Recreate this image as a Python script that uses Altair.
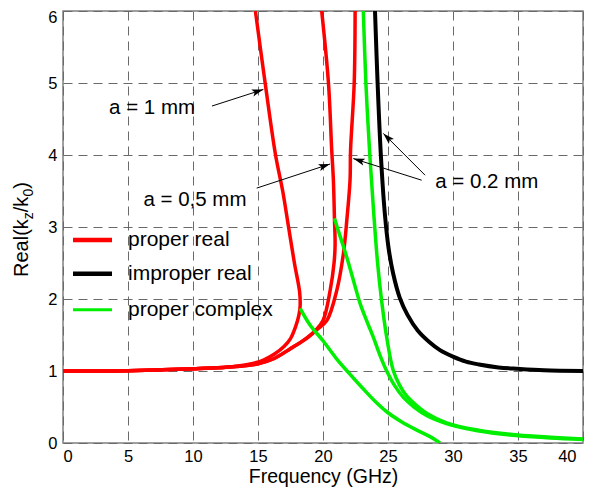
import math
import altair as alt
import pandas as pd

# ---------------- data ----------------
red_1mm_f = [0, 5, 10, 13.0, 14.5, 15.5, 16.3, 17.0, 17.5, 17.9, 18.15, 18.24, 18.2, 17.8, 17.35, 16.9, 16.35, 15.55, 14.8]
red_1mm_v = [1.0, 1.005, 1.03, 1.06, 1.1, 1.16, 1.24, 1.34, 1.45, 1.62, 1.78, 1.9, 2.1, 2.5, 3.0, 3.5, 4.0, 5.0, 6.0]

red_05mm_f = [0, 5, 10, 13.6, 15.0, 16.2, 17.4, 18.6, 19.4, 20.0, 20.55, 20.85, 20.93, 20.88, 20.8, 20.67, 20.42, 19.9]
red_05mm_v = [1.0, 1.005, 1.03, 1.065, 1.1, 1.17, 1.3, 1.44, 1.56, 1.7, 2.12, 2.5, 2.75, 3.12, 3.65, 4.07, 5.0, 6.0]

red_02mm_f = [0, 5, 10, 13.6, 15.0, 16.2, 17.5, 18.8, 19.5, 20.29, 21.06, 21.57, 21.83, 22.08, 22.12, 22.4, 22.47]
red_02mm_v = [1.0, 1.005, 1.03, 1.065, 1.1, 1.17, 1.31, 1.46, 1.57, 1.70, 2.12, 2.63, 3.09, 3.65, 4.07, 5.0, 6.0]

black_f = [24.0, 24.2, 24.45, 24.75, 25.05, 25.4, 25.9, 26.5, 27.3, 28.2, 29.0, 30.0, 31.0, 32.0, 33.5, 35.0, 37.0, 40.0]
black_v = [6.0, 5.0, 4.0, 3.2, 2.7, 2.35, 2.02, 1.78, 1.56, 1.4, 1.29, 1.2, 1.13, 1.09, 1.05, 1.03, 1.01, 1.0]

green_1mm_f = [18.24, 19.0, 20.0, 21.0, 22.0, 23.0, 24.0, 25.0, 26.0, 27.0, 28.0, 28.6, 29.0]
green_1mm_v = [1.87, 1.64, 1.42, 1.18, 0.97, 0.77, 0.58, 0.42, 0.3, 0.2, 0.11, 0.05, 0.0]

green_05mm_f = [20.88, 21.3, 21.83, 22.4, 22.85, 23.4, 23.87, 24.4, 24.9, 25.5, 26.2, 27.0, 28.0, 29.5, 31.0, 33.0, 35.0, 37.5, 40.0]
green_05mm_v = [3.12, 2.88, 2.58, 2.22, 1.94, 1.68, 1.47, 1.21, 1.0, 0.8, 0.63, 0.5, 0.38, 0.27, 0.2, 0.14, 0.1, 0.07, 0.05]

green_02mm_f = [23.1, 23.3, 23.6, 23.9, 24.2, 24.5, 24.9, 25.4, 25.9, 26.4, 27.2, 28.0, 29.5, 31.0, 33.0, 35.0, 37.5, 40.0]
green_02mm_v = [6.0, 5.0, 4.0, 3.2, 2.5, 1.99, 1.47, 1.01, 0.8, 0.66, 0.52, 0.41, 0.28, 0.21, 0.15, 0.11, 0.08, 0.055]

kinds = ["proper real", "improper real", "proper complex"]
kind_colors = ["#ff0000", "#000000", "#00ee00"]

x_ticks = [0, 5, 10, 15, 20, 25, 30, 35, 40]
y_ticks = [0, 1, 2, 3, 4, 5, 6]

# annotations (text labels and arrows)
ann_text = ["a = 1 mm", "a = 0,5 mm", "a = 0.2 mm"]
ann_f = [6.85, 10.15, 32.6]
ann_v = [4.65, 3.375, 3.625]

arrow_tail_f = [11.46, 14.9, 27.85, 27.59]
arrow_tail_v = [4.68, 3.54, 3.72, 3.65]
arrow_tip_f = [15.41, 20.54, 24.64, 22.33]
arrow_tip_v = [4.91, 3.875, 4.30, 3.95]

legend_v = [2.82, 2.35, 1.85]
legend_f0, legend_f1, legend_ft = 0.77, 3.77, 5.0

# ---------------- build tables ----------------
W, H = 520, 432
PX_F = W / 40.0
PX_V = H / 6.0
FONT = "Liberation Sans"


def series(name, kind, f, v):
    return pd.DataFrame({"f": f, "v": v, "curve": name, "kind": kind, "i": list(range(len(f)))})


reds = pd.concat([
    series("r1", "proper real", red_1mm_f, red_1mm_v),
    series("r05", "proper real", red_05mm_f, red_05mm_v),
    series("r02", "proper real", red_02mm_f, red_02mm_v),
])
blacks = series("b02", "improper real", black_f, black_v)
greens = pd.concat([
    series("g1", "proper complex", green_1mm_f, green_1mm_v),
    series("g05", "proper complex", green_05mm_f, green_05mm_v),
    series("g02", "proper complex", green_02mm_f, green_02mm_v),
])

xscale = alt.Scale(domain=[0, 40], nice=False, zero=False)
yscale = alt.Scale(domain=[0, 6], nice=False, zero=False)
cscale = alt.Scale(domain=kinds, range=kind_colors)

xaxis = alt.Axis(values=x_ticks, format="d", title="Frequency (GHz)", titleFontSize=19.5, titleFont=FONT,
                 titleFontWeight="normal", titleColor="#000", titlePadding=3,
                 labelPadding=5, grid=True,
                 labelOffset=alt.condition("datum.value == 40", alt.value(-7), alt.value(0)))
yaxis = alt.Axis(values=y_ticks, format="d", title=None, labelPadding=6, grid=True,
                 labelOffset=alt.condition("datum.value == 6", alt.value(6), alt.value(0)))


def curve_layer(df, width):
    return alt.Chart(df).mark_line(strokeWidth=width, interpolate="catmull-rom", clip=True).encode(
        x=alt.X("f:Q", scale=xscale, axis=xaxis),
        y=alt.Y("v:Q", scale=yscale, axis=yaxis),
        color=alt.Color("kind:N", scale=cscale, legend=None),
        detail="curve:N",
        order="i:Q",
    )


red_layer = curve_layer(reds, 3.5)
black_layer = curve_layer(blacks, 4)
green_layer = curve_layer(greens, 3.5)

# arrows
arr = pd.DataFrame({"f": arrow_tail_f, "v": arrow_tail_v, "f2": arrow_tip_f, "v2": arrow_tip_v})
arr["ang"] = [
    (math.degrees(math.atan2((b - a) * PX_F, (d - c) * PX_V)) + 360) % 360
    for a, b, c, d in zip(arrow_tail_f, arrow_tip_f, arrow_tail_v, arrow_tip_v)
]
arrow_lines = alt.Chart(arr).mark_rule(color="#000", strokeWidth=1).encode(
    x=alt.X("f:Q", scale=xscale), y=alt.Y("v:Q", scale=yscale),
    x2="f2:Q", y2="v2:Q",
)
arrow_heads = alt.Chart(arr).mark_point(
    shape="M0,0L-0.36,1.15L0,0.9L0.36,1.15Z", filled=True, color="#000", size=400, opacity=1
).encode(
    x=alt.X("f2:Q", scale=xscale), y=alt.Y("v2:Q", scale=yscale),
    angle=alt.Angle("ang:Q", scale=None),
)

ann = pd.DataFrame({"t": ann_text, "f": ann_f, "v": ann_v})
ann_layer = alt.Chart(ann).mark_text(font=FONT, fontSize=20.5, color="#000", baseline="middle", align="center").encode(
    x=alt.X("f:Q", scale=xscale), y=alt.Y("v:Q", scale=yscale), text="t:N"
)

# legend
leg = pd.DataFrame({"kind": kinds, "v": legend_v, "f0": [legend_f0] * 3, "f1": [legend_f1] * 3,
                    "ft": [legend_ft] * 3, "w": [4.5, 4.5, 3.0]})
leg_lines = alt.Chart(leg).mark_rule().encode(
    x=alt.X("f0:Q", scale=xscale), x2="f1:Q", y=alt.Y("v:Q", scale=yscale),
    color=alt.Color("kind:N", scale=cscale, legend=None),
    strokeWidth=alt.StrokeWidth("w:Q", scale=None),
)
leg_text = alt.Chart(leg).mark_text(font=FONT, fontSize=21, color="#000", align="left", baseline="middle").encode(
    x=alt.X("ft:Q", scale=xscale), y=alt.Y("v:Q", scale=yscale), text="kind:N"
)

# y-axis title with subscripts, built from pieces (rotated)
one = pd.DataFrame({"a": [0]})
pieces = [("Real(k", 20, -35, 266), ("z", 14, -30, 208.2), ("/k", 20, -35, 201.2),
          ("0", 14, -30, 185.6), (")", 20, -35, 177.8)]
ytitle_layers = [
    alt.Chart(one).mark_text(text=t, font=FONT, fontSize=fs, color="#000", angle=270,
                             align="left", baseline="alphabetic").encode(x=alt.value(px), y=alt.value(py))
    for t, fs, px, py in pieces
]

chart = alt.layer(
    red_layer, black_layer, green_layer, arrow_lines, arrow_heads, ann_layer, leg_lines, leg_text,
    *ytitle_layers
).properties(
    width=W, height=H,
    autosize=alt.AutoSizeParams(type="none"),
    padding={"left": 55, "top": 3, "right": 3, "bottom": 46},
    background="#ffffff",
).configure_view(
    stroke="#808080", strokeWidth=1.5
).configure_axis(
    domain=False, ticks=False, tickSize=0,
    gridColor="#6a6a6a", gridDash=[9, 6], gridWidth=1, gridOpacity=1,
    labelFont=FONT, labelFontSize=16.5, labelColor="#000",
)

chart.save("out.html", embed_options={"renderer": "svg", "actions": False})
